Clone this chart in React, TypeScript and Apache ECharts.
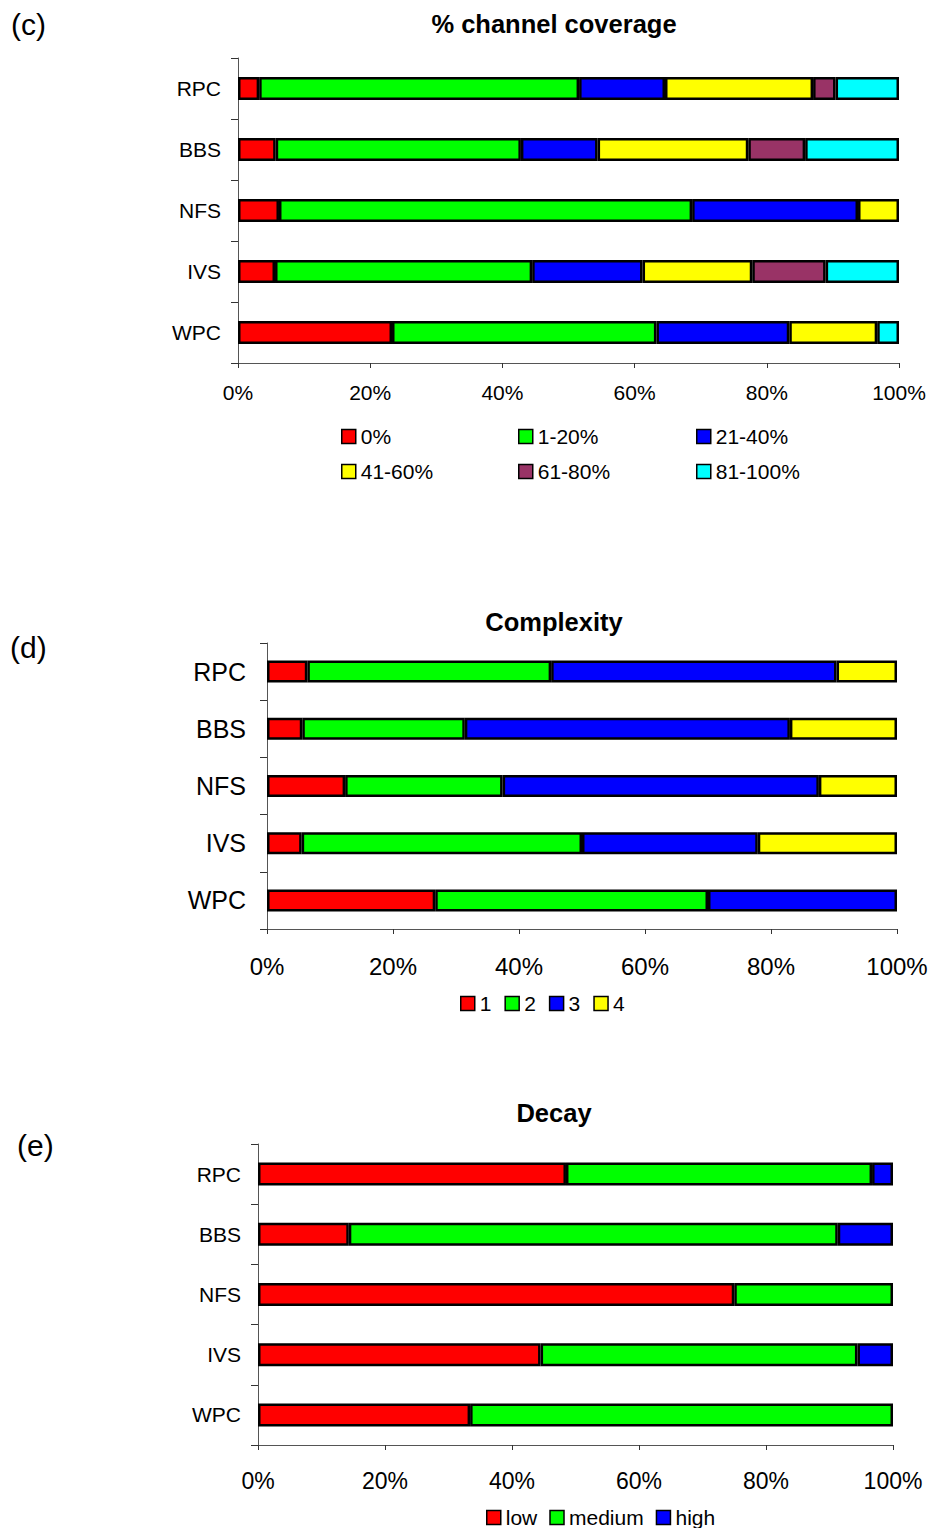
import React, { useEffect, useRef } from "react";
import * as echarts from "echarts";

// Categories (top to bottom as shown)
const categories = ["RPC", "BBS", "NFS", "IVS", "WPC"];
const xTickValues = [0, 20, 40, 60, 80, 100];

// (c) % channel coverage
const coverageNames = ["0%", "1-20%", "21-40%", "41-60%", "61-80%", "81-100%"];
const cov0 = [3.2, 5.7, 6.2, 5.6, 23.3];
const cov1to20 = [48.4, 37.1, 62.5, 38.9, 40.0];
const cov21to40 = [13.0, 11.6, 25.1, 16.7, 20.1];
const cov41to60 = [22.4, 22.8, 6.2, 16.6, 13.3];
const cov61to80 = [3.4, 8.6, 0, 11.1, 0];
const cov81to100 = [9.6, 14.2, 0, 11.1, 3.3];

// (d) Complexity
const complexityNames = ["1", "2", "3", "4"];
const cx1 = [6.4, 5.6, 12.4, 5.5, 26.7];
const cx2 = [38.7, 25.8, 25.0, 44.5, 43.3];
const cx3 = [45.3, 51.6, 50.2, 27.9, 30.0];
const cx4 = [9.6, 17.0, 12.4, 22.1, 0];

// (e) Decay
const decayNames = ["low", "medium", "high"];
const decayLow = [48.5, 14.3, 75.0, 44.5, 33.4];
const decayMedium = [48.2, 77.0, 25.0, 49.9, 66.6];
const decayHigh = [3.3, 8.7, 0, 5.6, 0];

const RED = "#FF0000";
const GREEN = "#00FF00";
const BLUE = "#0000FF";
const YELLOW = "#FFFF00";
const PURPLE = "#993366";
const CYAN = "#00FFFF";

const FONT = "'Liberation Sans', Arial, Helvetica, sans-serif";

function makeSeries(
  names: string[],
  colors: string[],
  datas: number[][],
  axisIndex: number,
  stack: string,
  barWidth: number
) {
  return names.map((name, i) => ({
    name,
    type: "bar",
    stack,
    xAxisIndex: axisIndex,
    yAxisIndex: axisIndex,
    barWidth,
    data: datas[i]
      .slice()
      .reverse()
      .map((v) => (v === 0 ? null : v)),
    itemStyle: { color: colors[i], borderColor: "#000", borderWidth: 2.5 },
    emphasis: { disabled: true },
  }));
}

function xAxis(gridIndex: number, fontSize: number, margin: number) {
  return {
    type: "value",
    gridIndex,
    min: xTickValues[0],
    max: xTickValues[xTickValues.length - 1],
    interval: xTickValues[1] - xTickValues[0],
    axisLine: { show: true, lineStyle: { color: "#555", width: 1 } },
    axisTick: { show: true, length: 5, lineStyle: { color: "#333" } },
    splitLine: { show: false },
    axisLabel: {
      formatter: "{value}%",
      color: "#000",
      fontSize,
      fontFamily: FONT,
      margin,
    },
  };
}

function yAxis(gridIndex: number, fontSize: number, margin: number) {
  return {
    type: "category",
    gridIndex,
    data: categories.slice().reverse(),
    axisLine: { show: true, lineStyle: { color: "#555", width: 1 } },
    axisTick: { show: true, length: 7, lineStyle: { color: "#333" } },
    axisLabel: { color: "#000", fontSize, fontFamily: FONT, margin },
  };
}

const legendBase = {
  icon: "rect",
  padding: 0,
  itemWidth: 14,
  itemHeight: 14,
  selectedMode: false,
  itemStyle: { borderColor: "#000", borderWidth: 1.5 },
  textStyle: { fontSize: 21, lineHeight: 21, color: "#000", fontFamily: FONT },
};

function label(text: string, x: number, y: number) {
  return {
    type: "text",
    x,
    y,
    style: {
      text,
      fontSize: 30,
      fontFamily: FONT,
      fill: "#000",
      textAlign: "left",
      textVerticalAlign: "middle",
    },
  };
}

function title(text: string, y: number) {
  return {
    type: "text",
    x: 554,
    y,
    style: {
      text,
      fontSize: 25.5,
      fontWeight: "bold",
      fontFamily: FONT,
      fill: "#000",
      textAlign: "center",
      textVerticalAlign: "middle",
    },
  };
}

export default function App() {
  const ref = useRef<HTMLDivElement>(null);

  useEffect(() => {
    if (!ref.current) return;
    const chart = echarts.init(ref.current, null, { renderer: "svg" });

    const covColors = [RED, GREEN, BLUE, YELLOW, PURPLE, CYAN];
    const covLegendPos = [
      [341, 426],
      [518, 426],
      [696, 426],
      [341, 461],
      [518, 461],
      [696, 461],
    ];

    const option: any = {
      animation: false,
      backgroundColor: "#fff",
      textStyle: { fontFamily: FONT },
      grid: [
        { left: 238, width: 661, top: 58, height: 305 },
        { left: 267, width: 630, top: 643, height: 286 },
        { left: 258, width: 635, top: 1144, height: 301 },
      ],
      xAxis: [xAxis(0, 21, 19), xAxis(1, 24, 25), xAxis(2, 23, 24)],
      yAxis: [yAxis(0, 21, 17), yAxis(1, 25, 21), yAxis(2, 21, 17)],
      legend: [
        ...coverageNames.map((n, i) => ({
          ...legendBase,
          data: [n],
          left: covLegendPos[i][0],
          top: covLegendPos[i][1],
        })),
        {
          ...legendBase,
          data: complexityNames,
          left: 460,
          top: 993,
          itemGap: 13,
        },
        {
          ...legendBase,
          data: decayNames,
          left: 486,
          top: 1507,
          itemGap: 12,
        },
      ],
      graphic: [
        label("(c)", 11, 24),
        title("% channel coverage", 24),
        label("(d)", 10, 647),
        title("Complexity", 622),
        label("(e)", 17, 1145),
        title("Decay", 1113),
      ],
      series: [
        ...makeSeries(
          coverageNames,
          covColors,
          [cov0, cov1to20, cov21to40, cov41to60, cov61to80, cov81to100],
          0,
          "cov",
          23
        ),
        ...makeSeries(
          complexityNames,
          [RED, GREEN, BLUE, YELLOW],
          [cx1, cx2, cx3, cx4],
          1,
          "cx",
          22
        ),
        ...makeSeries(
          decayNames,
          [RED, GREEN, BLUE],
          [decayLow, decayMedium, decayHigh],
          2,
          "decay",
          23
        ),
      ],
    };

    chart.setOption(option);
    return () => chart.dispose();
  }, []);

  return (
    <div
      ref={ref}
      style={{ position: "absolute", left: 0, top: 0, width: 931, height: 1528 }}
    />
  );
}
